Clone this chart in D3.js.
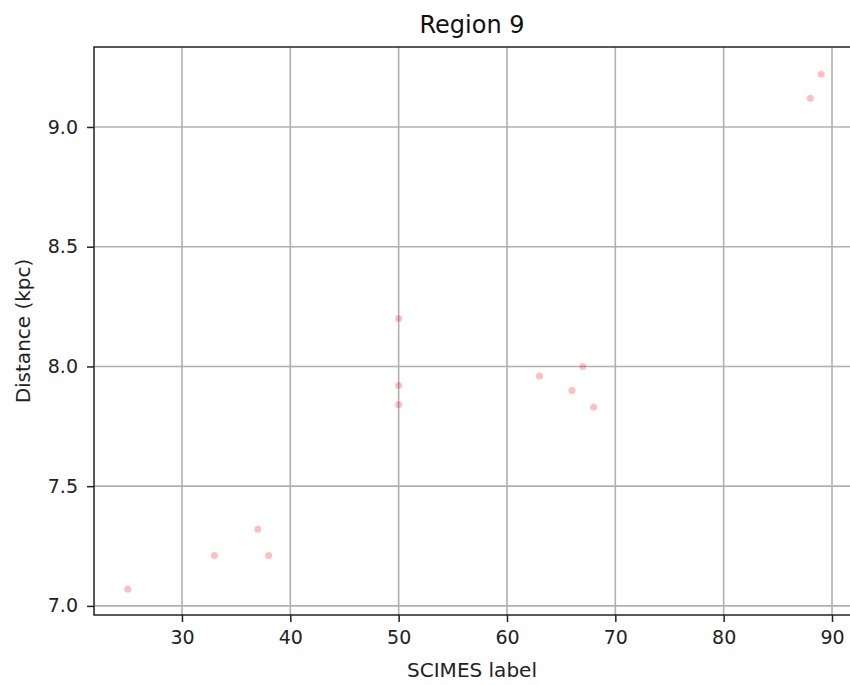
<!DOCTYPE html>
<html>
<head>
<meta charset="utf-8">
<script src="https://cdn.jsdelivr.net/npm/d3@7"></script>
<style>
  body { margin: 0; background: #fff; }
  svg { display: block; font-family: "DejaVu Sans", sans-serif; }
</style>
</head>
<body>
<svg id="chart" width="850" height="685"></svg>
<script>
// SCIMES cloud labels and their distances
const labels = [25, 33, 37, 38, 50, 50, 50, 63, 66, 67, 68, 88, 89];
const distances = [7.07, 7.21, 7.32, 7.21, 8.20, 7.92, 7.84, 7.96, 7.90, 8.00, 7.83, 9.12, 9.22];
const xTicks = [30, 40, 50, 60, 70, 80, 90];
const yTicks = [7.0, 7.5, 8.0, 8.5, 9.0];

const svg = d3.select("#chart");
const m = { left: 94, right: 854, top: 47, bottom: 615 };

const x = d3.scaleLinear().domain([21.88, 92.03]).range([m.left, m.right]);
const y = d3.scaleLinear().domain([6.962, 9.334]).range([m.bottom, m.top]);

const plot = svg.append("g");

// grid
plot.append("g").selectAll("line").data(xTicks).join("line")
  .attr("x1", d => x(d)).attr("x2", d => x(d))
  .attr("y1", m.top).attr("y2", m.bottom)
  .attr("stroke", "#b0b0b0").attr("stroke-width", 1.6);
plot.append("g").selectAll("line").data(yTicks).join("line")
  .attr("x1", m.left).attr("x2", m.right)
  .attr("y1", d => y(d)).attr("y2", d => y(d))
  .attr("stroke", "#b0b0b0").attr("stroke-width", 1.6);

// points
plot.append("g").selectAll("circle").data(labels).join("circle")
  .attr("cx", d => x(d))
  .attr("cy", (d, i) => y(distances[i]))
  .attr("r", 3.5)
  .attr("fill", "red")
  .attr("fill-opacity", 0.25);

// frame
plot.append("rect")
  .attr("x", m.left).attr("y", m.top)
  .attr("width", m.right - m.left).attr("height", m.bottom - m.top)
  .attr("fill", "none").attr("stroke", "#222").attr("stroke-width", 1.5);

// axes
const xAxis = svg.append("g").attr("transform", `translate(0,${m.bottom})`)
  .call(d3.axisBottom(x).tickValues(xTicks).tickFormat(d3.format("d")).tickSize(7).tickPadding(9));
const yAxis = svg.append("g").attr("transform", `translate(${m.left},0)`)
  .call(d3.axisLeft(y).tickValues(yTicks).tickFormat(d3.format(".1f")).tickSize(7).tickPadding(9));
[xAxis, yAxis].forEach(a => {
  a.select(".domain").remove();
  a.selectAll(".tick line").attr("stroke", "#222").attr("stroke-width", 1.5);
  a.selectAll(".tick text").attr("fill", "#222").style("font-size", "19px")
    .style("font-family", "DejaVu Sans, sans-serif");
});

// labels
svg.append("text").attr("x", (m.left + 850) / 2).attr("y", 33)
  .attr("text-anchor", "middle").style("font-size", "24px").attr("fill", "#111")
  .text("Region 9");
svg.append("text").attr("x", (m.left + 850) / 2).attr("y", 677)
  .attr("text-anchor", "middle").style("font-size", "20px").attr("fill", "#222")
  .text("SCIMES label");
svg.append("text").attr("transform", `translate(30,${(m.top + m.bottom) / 2}) rotate(-90)`)
  .attr("text-anchor", "middle").style("font-size", "20px").attr("fill", "#222")
  .text("Distance (kpc)");
</script>
</body>
</html>
